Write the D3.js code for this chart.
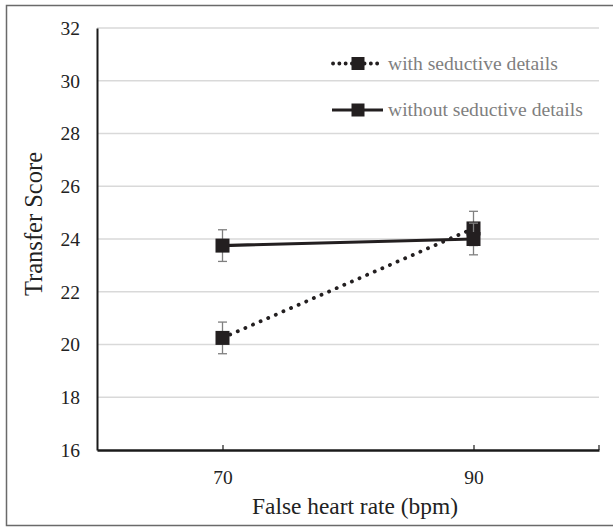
<!DOCTYPE html>
<html>
<head>
<meta charset="utf-8">
<script src="https://cdn.jsdelivr.net/npm/d3@7"></script>
<style>
  body { margin: 0; background: #fff; }
  svg { display: block; font-family: "Liberation Serif", "Times New Roman", serif; }
</style>
</head>
<body>
<div id="chart"></div>
<script>
// Data
var heartRates = ["70", "90"];
var withSeductive = [20.25, 24.4];
var withSeductiveErr = [0.6, 0.65];
var withoutSeductive = [23.75, 24.0];
var withoutSeductiveErr = [0.6, 0.6];
var yTicks = [16, 18, 20, 22, 24, 26, 28, 30, 32];

var seriesNames = ["with seductive details", "without seductive details"];

// Sizing
var width = 613;
var height = 527;
var margin = { top: 28, right: 14, bottom: 77, left: 97 };

var svg = d3.select("#chart")
    .append("svg")
    .attr("width", width)
    .attr("height", height);

// Outer frame (open on the right side)
svg.append("path")
    .attr("d", "M613,5.5 H6.5 V525.5 H613")
    .attr("fill", "none")
    .attr("stroke", "#6a6a6a")
    .attr("stroke-width", 1.5);

var x = d3.scalePoint()
    .domain(heartRates)
    .range([margin.left, width - margin.right])
    .padding(0.5);

var y = d3.scaleLinear()
    .domain([16, 32])
    .range([height - margin.bottom, margin.top]);

// Gridlines
svg.append("g")
    .selectAll("line")
    .data(yTicks.filter(d => d > 16))
    .enter()
    .append("line")
    .attr("x1", margin.left)
    .attr("x2", width - margin.right)
    .attr("y1", d => y(d))
    .attr("y2", d => y(d))
    .attr("stroke", "#d9d9d9")
    .attr("stroke-width", 1.5);

// Y axis
var yAxis = svg.append("g")
    .attr("transform", `translate(${margin.left},0)`)
    .call(d3.axisLeft(y).tickValues(yTicks).tickSize(0).tickPadding(17));
yAxis.select(".domain").attr("stroke", "#1a1a1a").attr("stroke-width", 2);
yAxis.selectAll("text")
    .attr("font-size", 19.5)
    .attr("fill", "#222")
    .attr("font-family", "Liberation Serif, serif");

// X axis
var xAxis = svg.append("g")
    .attr("transform", `translate(0,${height - margin.bottom})`)
    .call(d3.axisBottom(x).tickSizeInner(-5).tickSizeOuter(0).tickPadding(20));
xAxis.select(".domain").attr("stroke", "#1a1a1a").attr("stroke-width", 2.5);
xAxis.selectAll(".tick line").attr("stroke", "#1a1a1a").attr("stroke-width", 1.2);
xAxis.selectAll("text")
    .attr("font-size", 19.5)
    .attr("fill", "#222")
    .attr("font-family", "Liberation Serif, serif");
xAxis.append("line")
    .attr("x1", width - margin.right)
    .attr("x2", width - margin.right)
    .attr("y1", 0)
    .attr("y2", -5)
    .attr("stroke", "#1a1a1a")
    .attr("stroke-width", 1.2);

// Axis titles
svg.append("text")
    .attr("transform", "translate(42,224) rotate(-90)")
    .attr("text-anchor", "middle")
    .attr("font-size", 24.5)
    .attr("fill", "#222")
    .text("Transfer Score");

svg.append("text")
    .attr("x", 355)
    .attr("y", 514)
    .attr("text-anchor", "middle")
    .attr("font-size", 23.4)
    .attr("fill", "#222")
    .text("False heart rate (bpm)");

// Series
var series = [
    { name: seriesNames[0], values: withSeductive, err: withSeductiveErr, dash: "0.1,8.2", width: 3.8 },
    { name: seriesNames[1], values: withoutSeductive, err: withoutSeductiveErr, dash: null, width: 3.2 }
];

var line = d3.line()
    .x((d, i) => x(heartRates[i]))
    .y(d => y(d));

var markerSize = 14;
var lineColor = "#231f20";

series.forEach(function (s) {
    var g = svg.append("g");

    // Error bars
    var eb = g.selectAll(".err")
        .data(s.values)
        .enter()
        .append("g")
        .attr("stroke", "#7f7f7f")
        .attr("stroke-width", 1.3);
    eb.append("line")
        .attr("x1", (d, i) => x(heartRates[i]))
        .attr("x2", (d, i) => x(heartRates[i]))
        .attr("y1", (d, i) => y(d - s.err[i]))
        .attr("y2", (d, i) => y(d + s.err[i]));
    eb.append("line")
        .attr("x1", (d, i) => x(heartRates[i]) - 4.5)
        .attr("x2", (d, i) => x(heartRates[i]) + 4.5)
        .attr("y1", (d, i) => y(d + s.err[i]))
        .attr("y2", (d, i) => y(d + s.err[i]));
    eb.append("line")
        .attr("x1", (d, i) => x(heartRates[i]) - 4.5)
        .attr("x2", (d, i) => x(heartRates[i]) + 4.5)
        .attr("y1", (d, i) => y(d - s.err[i]))
        .attr("y2", (d, i) => y(d - s.err[i]));

    // Line
    g.append("path")
        .datum(s.values)
        .attr("d", line)
        .attr("fill", "none")
        .attr("stroke", lineColor)
        .attr("stroke-width", s.width)
        .attr("stroke-linecap", "round")
        .attr("stroke-dasharray", s.dash);

    // Markers
    g.selectAll("rect")
        .data(s.values)
        .enter()
        .append("rect")
        .attr("x", (d, i) => x(heartRates[i]) - markerSize / 2)
        .attr("y", d => y(d) - markerSize / 2)
        .attr("width", markerSize)
        .attr("height", markerSize)
        .attr("fill", lineColor);
});

// Legend
var legend = svg.append("g");
var legendY = [63.5, 110];
series.forEach(function (s, i) {
    var lg = legend.append("g").attr("transform", `translate(0,${legendY[i]})`);
    lg.append("line")
        .attr("x1", i === 0 ? 333 : 332)
        .attr("x2", i === 0 ? 378 : 383)
        .attr("stroke", lineColor)
        .attr("stroke-width", s.width)
        .attr("stroke-linecap", i === 0 ? "round" : "butt")
        .attr("stroke-dasharray", i === 0 ? "0.1,6.2" : null);
    lg.append("rect")
        .attr("x", 358 - 6.5)
        .attr("y", -6.5)
        .attr("width", 13)
        .attr("height", 13)
        .attr("fill", lineColor);
    lg.append("text")
        .attr("x", 388)
        .attr("y", 6)
        .attr("font-size", 19.6)
        .attr("fill", "#7f7f7f")
        .text(s.name);
});
</script>
</body>
</html>
